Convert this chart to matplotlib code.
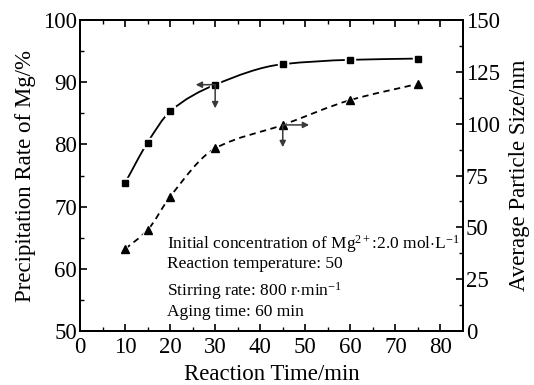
import matplotlib
matplotlib.use("Agg")
import matplotlib.pyplot as plt
from matplotlib.path import Path
from matplotlib.patches import PathPatch
import numpy as np

# ---- data ----
time_min = [10, 15, 20, 30, 45, 60, 75]
precip_rate = [73.8, 80.3, 85.3, 89.6, 92.9, 93.6, 93.8]
particle_size = [39.5, 48.7, 64.8, 88.1, 99.4, 111.4, 119.2]

x_ticks = [0, 10, 20, 30, 40, 50, 60, 70, 80]
left_ticks = [50, 60, 70, 80, 90, 100]
right_ticks = [0, 25, 50, 75, 100, 125, 150]

notes = [
    r"Initial concentration of Mg$^{2+}$:2.0 mol$\cdot$L$^{-1}$",
    "Reaction temperature: 50",
    r"Stirring rate: 800 r$\cdot$min$^{-1}$",
    "Aging time: 60 min",
]

plt.rcParams["font.family"] = ["Liberation Serif", "DejaVu Serif"]
plt.rcParams["mathtext.fontset"] = "custom"
plt.rcParams["mathtext.rm"] = "Liberation Serif"
plt.rcParams["mathtext.it"] = "Liberation Serif:italic"
plt.rcParams["mathtext.bf"] = "Liberation Serif:bold"


def smooth_path(xs, ys):
    """Monotone cubic Hermite (Fritsch-Carlson) as Bezier path."""
    x = np.asarray(xs, float)
    y = np.asarray(ys, float)
    h = np.diff(x)
    d = np.diff(y) / h
    n = len(x)
    m = np.zeros(n)
    m[0] = d[0]
    m[-1] = d[-1]
    for i in range(1, n - 1):
        if d[i - 1] * d[i] <= 0:
            m[i] = 0
        else:
            w1 = 2 * h[i] + h[i - 1]
            w2 = h[i] + 2 * h[i - 1]
            m[i] = (w1 + w2) / (w1 / d[i - 1] + w2 / d[i])
    verts = [(x[0], y[0])]
    codes = [Path.MOVETO]
    for i in range(n - 1):
        verts += [(x[i] + h[i] / 3, y[i] + m[i] * h[i] / 3),
                  (x[i + 1] - h[i] / 3, y[i + 1] - m[i + 1] * h[i] / 3),
                  (x[i + 1], y[i + 1])]
        codes += [Path.CURVE4] * 3
    return Path(verts, codes)


fig = plt.figure(figsize=(5.34, 3.85), dpi=100)
ax = fig.add_axes([0.1498, 0.1403, 0.867 - 0.1498, 0.948 - 0.1403])
ax2 = ax.twinx()

ax.set_xlim(0, 85)
ax.set_ylim(50, 100)
ax2.set_ylim(0, 150)

# curves
ax.add_patch(PathPatch(smooth_path(time_min, precip_rate), fill=False,
                       edgecolor="black", lw=1.3, zorder=2))
ax2.add_patch(PathPatch(smooth_path(time_min, particle_size), fill=False,
                        edgecolor="black", lw=1.3, linestyle=(0, (3.5, 2.5)), zorder=2))

# marker gaps + markers
ax.plot(time_min, precip_rate, ls="none", marker="s", ms=7.5, mfc="white",
        mec="white", zorder=3)
ax.plot(time_min, precip_rate, ls="none", marker="s", ms=4.6, mfc="black",
        mec="black", zorder=4)
ax2.plot(time_min, particle_size, ls="none", marker="^", ms=8.5, mfc="white",
         mec="white", zorder=3)
ax2.plot(time_min, particle_size, ls="none", marker="^", ms=5.5, mfc="black",
         mec="black", zorder=4)

# axis indicator arrows
arrow_kw = dict(arrowstyle="<|-", color="#3a3a3a", lw=1.1, mutation_scale=9,
                shrinkA=0, shrinkB=0)
ax.annotate("", xy=(time_min[3], precip_rate[3]), xytext=(-14, 0),
            textcoords="offset points", arrowprops=arrow_kw, zorder=5)
ax.annotate("", xy=(time_min[3], precip_rate[3]), xytext=(0, -17),
            textcoords="offset points", arrowprops=arrow_kw, zorder=5)
ax2.annotate("", xy=(time_min[4], particle_size[4]), xytext=(19, 0),
             textcoords="offset points", arrowprops=arrow_kw, zorder=5)
ax2.annotate("", xy=(time_min[4], particle_size[4]), xytext=(0, -16),
             textcoords="offset points", arrowprops=arrow_kw, zorder=5)

# ticks
ax.set_xticks(x_ticks)
ax.set_xticks(np.arange(5, 85, 10), minor=True)
ax.set_yticks(left_ticks)
ax.set_yticks(np.arange(55, 100, 10), minor=True)
ax2.set_yticks(right_ticks)
ax2.set_yticks(np.arange(12.5, 150, 25), minor=True)

ax.tick_params(axis="x", which="both", direction="in", top=True, labelsize=16.5,
               pad=4)
ax.tick_params(axis="x", which="major", length=5, width=1.2)
ax.tick_params(axis="x", which="minor", length=3, width=1.0)
ax.tick_params(axis="y", which="major", direction="in", length=5, width=1.2,
               labelsize=16.5, pad=2)
ax.tick_params(axis="y", which="minor", direction="in", length=3, width=1.0)
ax2.tick_params(axis="y", which="major", direction="in", length=5, width=1.2,
                labelsize=16.5, pad=2)
ax2.tick_params(axis="y", which="minor", direction="in", length=3, width=1.0)

for a in (ax, ax2):
    for s in a.spines.values():
        s.set_linewidth(1.4)

ax.set_xlabel("Reaction Time/min", fontsize=16.5, labelpad=5)
ax.set_ylabel("Precipitation Rate of Mg/%", fontsize=16.5, labelpad=5)
ax2.set_ylabel("Average Particle Size/nm", fontsize=16.5, labelpad=7)

note_y = [0.266, 0.2016, 0.1135, 0.048]
for t, yy in zip(notes, note_y):
    ax.text(0.226, yy, t, transform=ax.transAxes, fontsize=12.5,
            va="baseline", ha="left")

fig.savefig("out.png", dpi=100)
